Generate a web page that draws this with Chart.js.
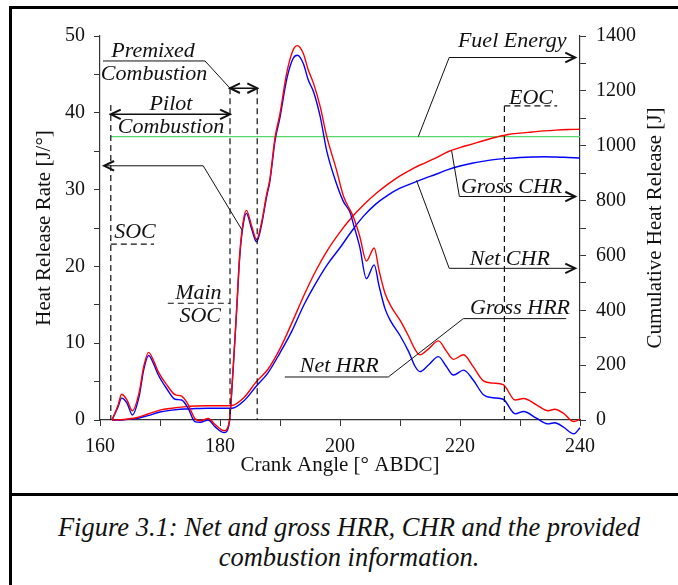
<!DOCTYPE html>
<html>
<head>
<meta charset="utf-8">
<script src="https://cdn.jsdelivr.net/npm/chart.js@4.4.1/dist/chart.umd.min.js"></script>
<style>
    html, body { margin: 0; padding: 0; background: #fff; }
    body { width: 678px; height: 585px; position: relative; overflow: hidden; }
    #frame { position: absolute; left: 9px; top: 6px; width: 720px; height: 620px; border: 3px solid #000; box-sizing: border-box; }
    #divider { position: absolute; left: 9px; top: 493px; width: 720px; height: 3px; background: #000; }
    #wrap { position: absolute; left: 0; top: 0; width: 678px; height: 495px; }
    #caption { position: absolute; left: 20px; width: 658px; top: 512px; text-align: center; font: italic 26.5px "Liberation Serif", serif; line-height: 30px; color: #111; }
</style>
</head>
<body>
<div id="frame"></div>
<div id="divider"></div>
<div id="wrap"><canvas id="chartHRR"></canvas></div>
<div id="caption">Figure 3.1: Net and gross HRR, CHR and the provided<br>combustion information.</div>
<script>
// heat release rate [J/deg]
const crankHRR = [162, 163, 163.6, 164.5, 165.4, 166.5, 167.3, 168.1, 169, 169.7, 171.1, 172.5, 173.6, 174.7, 175.8, 176.7, 178.05, 179.2, 180.7, 181.5,
    182.2, 182.8, 183.3, 183.9, 184.4, 185.3, 186.1, 186.9, 187.8, 188.3, 189.2, 190, 191.1, 192.2, 192.9, 193.9, 194.7, 195.6, 196.7, 197.8,
    199.4, 200.6, 201.7, 202.2, 203.3, 204.4, 205.7, 206.5, 207.5, 208.5, 210, 211.5, 212.5, 213.3, 214.8, 216.4, 217.7, 218.9, 220.6, 222.2,
    223.9, 225.5, 227.2, 229.2, 230.6, 232.8, 234.7, 235.8, 237.2, 239, 240];
const grossHRR = [0, 1.9, 3.35, 2.6, 1.2, 3.5, 7.0, 8.8, 7.6, 6.3, 4.6, 3.3, 3.1, 2.0, 0.2, -0.1, 0.2, -0.6, -1.4, -0.4,
    6.9, 14.8, 21.7, 26.0, 27.3, 25.2, 23.5, 25.6, 29.5, 31.3, 36.9, 39.9, 45.1, 48.2, 48.75, 47.7, 45.6, 43.8, 40.8, 36.9,
    32.6, 29.1, 27.3, 26.5, 23.9, 20.7, 22.4, 19.5, 16.5, 14.8, 13.0, 10.8, 9.2, 8.5, 9.3, 10.3, 9.0, 7.9, 8.5, 6.95,
    5.1, 4.8, 4.6, 2.6, 2.8, 1.95, 1.2, 1.4, 0.9, -0.2, 0.1];
const netHRR = [0, 1.7, 2.85, 2.2, 0.65, 3.0, 6.6, 8.4, 7.2, 5.9, 4.1, 2.7, 2.6, 1.5, -0.2, -0.3, 0.0, -0.9, -1.65, -0.6,
    6.7, 14.6, 21.4, 25.6, 26.9, 24.8, 23.2, 25.3, 29.2, 31.0, 36.5, 39.4, 44.3, 47.1, 47.5, 46.4, 44.3, 42.7, 39.5, 35.0,
    30.8, 28.4, 27.0, 25.6, 22.5, 18.4, 20.2, 17.5, 14.5, 12.8, 11.0, 8.8, 7.0, 6.3, 7.2, 8.25, 7.0, 5.85, 6.5, 5.2,
    3.3, 2.9, 2.7, 0.8, 1.1, 0.2, -0.5, -0.35, -0.9, -1.8, -1.0];

// cumulative heat release [J]
const crankCHR = [162, 164, 166, 168, 170, 172, 174, 176, 178, 180, 182, 184, 186, 188, 190, 192, 194, 196, 198, 200,
    202, 204, 206, 208, 210, 212, 214, 216, 218, 220, 222, 224, 226, 228, 230, 232, 234, 236, 238, 240];
const grossCHR = [0, 2, 8, 22, 36, 43, 48, 51, 52, 52, 53, 82, 138, 185, 260, 355, 455, 545, 622, 685,
    740, 786, 826, 860, 890, 915, 936, 956, 978, 993, 1006, 1019, 1031, 1041, 1046, 1050, 1054, 1057, 1059, 1060];
const netCHR = [0, 1, 5, 16, 29, 36, 40, 42, 43, 43, 43, 70, 122, 172, 245, 325, 420, 500, 570, 628,
    690, 745, 788, 820, 845, 863, 880, 896, 913, 926, 936, 944, 950, 954, 957, 959, 960, 959, 957, 955];

// provided fuel energy [J]
const fuelCrank = [161.8, 240];
const fuelEnergy = [1033, 1033];

// tick labels
const crankLabels = [160, 180, 200, 220, 240];
const hrrLabels = [0, 10, 20, 30, 40, 50];
const chrLabels = [0, 200, 400, 600, 800, 1000, 1200, 1400];

const pts = (xs, ys) => xs.map((x, i) => ({ x, y: ys[i] }));

const serif = '"Liberation Serif", "Times New Roman", serif';
const tickFont = { family: serif, size: 20 };
const titleFont = { family: serif, size: 21 };
const ink = '#111';

// annotation layout, in crank angle / HRR units
const dashed = [
    [[161.8, 41], [161.8, 0]],
    [[161.8, 22.9], [169.0, 22.9]],
    [[181.67, 43.2], [181.67, 0]],
    [[171.3, 15.2], [181.67, 15.2]],
    [[186.2, 43.2], [186.2, 0]],
    [[227.4, 40.9], [227.4, 0]],
    [[227.4, 40.9], [236.2, 40.9]]
];
const leaders = [
    { path: [[160.5, 46.75], [177.5, 46.75], [181.67, 43.2]], arrow: false },
    { path: [[183.7, 24.7], [177.2, 33.1], [160.7, 33.1]], arrow: true },
    { path: [[213.05, 36.9], [218.2, 47.2], [239.2, 47.2]], arrow: true },
    { path: [[218.6, 35.07], [219.9, 29.1], [239.2, 29.1]], arrow: true },
    { path: [[212.75, 31.2], [218.2, 19.75], [239.2, 19.75]], arrow: true },
    { path: [[190.8, 5.6], [208.05, 5.6], [220.55, 13.2], [237.7, 13.2]], arrow: false }
];
const spans = [
    [[161.8, 39.8], [181.67, 39.8]],
    [[181.67, 43.2], [186.2, 43.2]]
];
const labels = [
    ['Premixed', 168.83, 47.3],
    ['Combustion', 169.0, 44.27],
    ['Pilot', 171.83, 40.36],
    ['Combustion', 171.83, 37.33],
    ['SOC', 165.83, 23.66],
    ['Main', 176.4, 15.72],
    ['SOC', 176.7, 12.76],
    ['EOC', 231.83, 41.15],
    ['Fuel Energy', 228.7, 48.53],
    ['Gross CHR', 228.6, 29.6],
    ['Net CHR', 228.3, 20.14],
    ['Gross HRR', 230, 13.8],
    ['Net HRR', 199.86, 6.21]
];
const rightTitle = 'Cumulative Heat Release [J]';

const notes = {
    id: 'notes',
    afterDatasetsDraw(chart) {
        const { ctx } = chart;
        const sx = chart.scales.x;
        const sy = chart.scales.y;
        const p = (q) => [sx.getPixelForValue(q[0]), sy.getPixelForValue(q[1])];
        const head = (tip, from) => {
            const a = Math.atan2(tip[1] - from[1], tip[0] - from[0]);
            const len = 11;
            const spread = 0.45;
            ctx.save();
            ctx.lineWidth = 2;
            ctx.setLineDash([]);
            ctx.beginPath();
            ctx.moveTo(tip[0] - len * Math.cos(a - spread), tip[1] - len * Math.sin(a - spread));
            ctx.lineTo(tip[0], tip[1]);
            ctx.lineTo(tip[0] - len * Math.cos(a + spread), tip[1] - len * Math.sin(a + spread));
            ctx.stroke();
            ctx.restore();
        };
        ctx.save();
        ctx.strokeStyle = ink;
        ctx.fillStyle = ink;

        ctx.lineWidth = 1.2;
        ctx.setLineDash([6, 4]);
        dashed.forEach(([a, b]) => {
            const pa = p(a);
            const pb = p(b);
            ctx.beginPath();
            ctx.moveTo(pa[0], pa[1]);
            ctx.lineTo(pb[0], pb[1]);
            ctx.stroke();
        });
        ctx.setLineDash([]);

        ctx.lineWidth = 1;
        leaders.forEach(({ path, arrow }) => {
            const pp = path.map(p);
            ctx.beginPath();
            pp.forEach((q, i) => (i ? ctx.lineTo(q[0], q[1]) : ctx.moveTo(q[0], q[1])));
            ctx.stroke();
            if (arrow) {
                head(pp[pp.length - 1], pp[pp.length - 2]);
            }
        });

        ctx.lineWidth = 1.5;
        spans.forEach(([a, b]) => {
            const pa = p(a);
            const pb = p(b);
            ctx.beginPath();
            ctx.moveTo(pa[0], pa[1]);
            ctx.lineTo(pb[0], pb[1]);
            ctx.stroke();
            head(pa, pb);
            head(pb, pa);
        });

        ctx.font = `italic 22px ${serif}`;
        ctx.textAlign = 'center';
        ctx.textBaseline = 'alphabetic';
        labels.forEach(([text, cx, cy]) => {
            const q = p([cx, cy]);
            ctx.fillText(text, q[0], q[1]);
        });

        // right axis title reads bottom to top, as on the left
        const area = chart.chartArea;
        ctx.translate(655, (area.top + area.bottom) / 2);
        ctx.rotate(-Math.PI / 2);
        ctx.font = `21px ${serif}`;
        ctx.textBaseline = 'middle';
        ctx.fillText(rightTitle, 0, 0);
        ctx.restore();
    }
};

const lineStyle = { pointRadius: 0, borderWidth: 1.4, cubicInterpolationMode: 'monotone', clip: false, fill: false };

new Chart(document.getElementById('chartHRR'), {
    type: 'line',
    data: {
        datasets: [
            { label: 'Gross HRR', data: pts(crankHRR, grossHRR), yAxisID: 'y', borderColor: '#ff0000', ...lineStyle },
            { label: 'Net HRR', data: pts(crankHRR, netHRR), yAxisID: 'y', borderColor: '#0000ff', ...lineStyle },
            { label: 'Gross CHR', data: pts(crankCHR, grossCHR), yAxisID: 'y2', borderColor: '#ff0000', ...lineStyle },
            { label: 'Net CHR', data: pts(crankCHR, netCHR), yAxisID: 'y2', borderColor: '#0000ff', ...lineStyle },
            { label: 'Fuel Energy', data: pts(fuelCrank, fuelEnergy), yAxisID: 'y2', borderColor: '#55d86a', ...lineStyle }
        ]
    },
    options: {
        responsive: true,
        maintainAspectRatio: false,
        animation: false,
        layout: { padding: { left: 30, right: 8, top: 36, bottom: 17 } },
        plugins: {
            legend: { display: false },
            tooltip: { enabled: false }
        },
        scales: {
            x: {
                type: 'linear',
                position: 'bottom',
                min: 160,
                max: 240,
                ticks: {
                    stepSize: 10,
                    autoSkip: false,
                    maxRotation: 0,
                    color: ink,
                    font: tickFont,
                    padding: 9,
                    callback: (v) => (crankLabels.includes(v) ? String(v) : '')
                },
                grid: { drawOnChartArea: false, drawTicks: true, tickLength: 6, color: '#333' },
                border: { display: true, color: '#333', width: 1.2 },
                title: { display: true, text: 'Crank Angle [° ABDC]', color: ink, font: titleFont, padding: { top: 0, bottom: 0 } },
                afterFit: (s) => { s.height = 58; }
            },
            y: {
                position: 'left',
                min: 0,
                max: 50,
                ticks: {
                    stepSize: 5,
                    color: ink,
                    font: tickFont,
                    padding: 9,
                    callback: (v) => (hrrLabels.includes(v) ? String(v) : '')
                },
                grid: { drawOnChartArea: false, drawTicks: true, tickLength: 6, color: '#333' },
                border: { display: true, color: '#333', width: 1.2 },
                title: { display: true, text: 'Heat Release Rate [J/°]', color: ink, font: titleFont, padding: { top: 2, bottom: 0 } },
                afterFit: (s) => { s.width = 70; }
            },
            y2: {
                position: 'right',
                min: 0,
                max: 1400,
                ticks: {
                    stepSize: 100,
                    color: ink,
                    font: tickFont,
                    padding: 10,
                    callback: (v) => (chrLabels.includes(v) ? String(v) : '')
                },
                grid: { drawOnChartArea: false, drawTicks: true, tickLength: 6, color: '#333' },
                border: { display: true, color: '#333', width: 1.2 },
                title: { display: false },
                afterFit: (s) => { s.width = 90; }
            }
        }
    },
    plugins: [notes]
});
</script>
</body>
</html>
